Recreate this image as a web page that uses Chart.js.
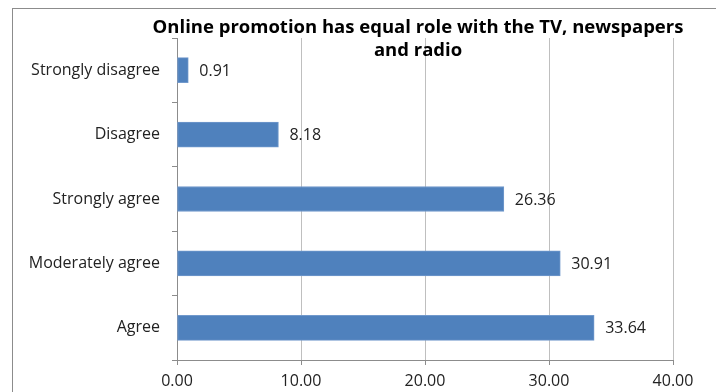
<!DOCTYPE html>
<html>
<head>
<meta charset="utf-8">
<script src="https://cdn.jsdelivr.net/npm/chart.js@4"></script>
<style>
    html, body { margin: 0; padding: 0; background: #fff; overflow: hidden; }
    #wrap { width: 716px; height: 392px; position: relative; }
</style>
</head>
<body>
<div id="wrap"><canvas id="promoChart" width="716" height="392"></canvas></div>
<script>
// survey answers, top to bottom
var answers = ['Strongly disagree', 'Disagree', 'Strongly agree', 'Moderately agree', 'Agree'];
var percents = [0.91, 8.18, 26.36, 30.91, 33.64];
var titleLines = ['Online promotion has equal role with the TV, newspapers', 'and radio'];

var font = '"Open Sans", "DejaVu Sans", sans-serif';

// frame round the whole chart and the bold title on top of the plot
var framePlugin = {
    id: 'frame',
    beforeDraw: function (chart) {
        var c = chart.ctx;
        c.save();
        c.fillStyle = '#fff';
        c.fillRect(0, 0, chart.width, chart.height);
        c.strokeStyle = '#8c8c8c';
        c.lineWidth = 1;
        c.strokeRect(12.5, 8.5, 900, 600);
        c.restore();
    },
    afterDraw: function (chart) {
        var c = chart.ctx;
        var mid = (chart.chartArea.left + chart.chartArea.right) / 2 - 7;
        c.save();
        c.fillStyle = '#000';
        c.font = 'bold 18.5px ' + font;
        c.textAlign = 'center';
        c.textBaseline = 'middle';
        c.fillText(titleLines[0], mid, 28);
        c.fillText(titleLines[1], mid, 51);
        c.restore();
    }
};

// value printed just right of each bar
var valuePlugin = {
    id: 'values',
    afterDatasetsDraw: function (chart) {
        var c = chart.ctx;
        var meta = chart.getDatasetMeta(0);
        c.save();
        c.fillStyle = '#222';
        c.font = '16px ' + font;
        c.textAlign = 'left';
        c.textBaseline = 'middle';
        meta.data.forEach(function (bar, i) {
            c.fillText(percents[i].toFixed(2), bar.x + 11, bar.y + 1);
        });
        c.restore();
    }
};

var ctx = document.getElementById('promoChart').getContext('2d');
var chart = new Chart(ctx, {
    type: 'bar',
    data: {
        labels: answers,
        datasets: [{
            data: percents,
            backgroundColor: '#4f81bd',
            borderColor: '#7199cc',
            borderWidth: 1,
            borderSkipped: false,
            barThickness: 25
        }]
    },
    options: {
        indexAxis: 'y',
        responsive: false,
        animation: false,
        layout: { padding: { top: 38, right: 43, left: 0, bottom: 0 } },
        plugins: {
            legend: { display: false },
            title: { display: false },
            tooltip: { enabled: false }
        },
        scales: {
            x: {
                min: 0,
                max: 40,
                ticks: {
                    stepSize: 10,
                    padding: 7,
                    color: '#222',
                    font: { family: font, size: 16 },
                    callback: function (v) { return v.toFixed(2); }
                },
                grid: { color: '#bfbfbf', tickLength: 5, tickColor: '#8c8c8c' },
                border: { color: '#8c8c8c' },
                afterFit: function (scale) { scale.height = 32; }
            },
            y: {
                ticks: {
                    padding: 12,
                    color: '#222',
                    font: { family: font, size: 16 }
                },
                grid: { offset: true, drawOnChartArea: false, tickLength: 5, color: '#8c8c8c' },
                border: { color: '#8c8c8c' },
                afterFit: function (scale) { scale.width = 177; }
            }
        }
    },
    plugins: [framePlugin, valuePlugin]
});
</script>
</body>
</html>
